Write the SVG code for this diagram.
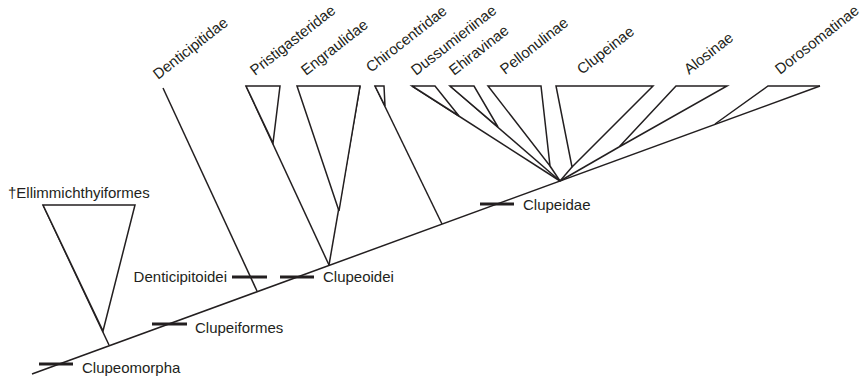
<svg xmlns="http://www.w3.org/2000/svg" width="866" height="377" viewBox="0 0 866 377">
<style>
.ln{fill:none;stroke:#231f20;stroke-width:1.5;stroke-linejoin:miter}
.tri{fill:#fff;stroke:#231f20;stroke-width:1.5;stroke-linejoin:miter}
.bar{stroke:#231f20;stroke-width:3}
text{font-family:"Liberation Sans",Arial,sans-serif;font-size:15px;fill:#231f20}
</style>
<rect width="866" height="377" fill="#fff"/>
<g id="connectors">
<line class="ln" x1="32" y1="374" x2="820" y2="86"/>
<line class="ln" x1="43" y1="205" x2="109" y2="345"/>
<line class="ln" x1="163" y1="88" x2="257" y2="291"/>
<line class="ln" x1="246" y1="86" x2="329" y2="265"/>
<line class="ln" x1="360" y1="86" x2="329" y2="265"/>
<line class="ln" x1="375" y1="86" x2="442" y2="224"/>
<line class="ln" x1="412" y1="86" x2="560" y2="181"/>
<line class="ln" x1="450" y1="86" x2="560" y2="181"/>
<line class="ln" x1="550" y1="166" x2="560" y2="181"/>
<line class="ln" x1="572" y1="167" x2="560" y2="181"/>
<line class="ln" x1="619" y1="147" x2="560" y2="181"/>
</g>
<g id="Ellimmichthyiformes">
<polygon class="tri" points="43,205 135,205 103,331"/>
<text x="8" y="198">†Ellimmichthyiformes</text>
</g>
<g id="Denticipitidae">
<text transform="translate(158,80) rotate(-38)">Denticipitidae</text>
</g>
<g id="Pristigasteridae">
<polygon class="tri" points="246,86 280,86 273,143"/>
<text transform="translate(255,76) rotate(-38)">Pristigasteridae</text>
</g>
<g id="Engraulidae">
<polygon class="tri" points="297,86 360,86 339,211"/>
<text transform="translate(306,76) rotate(-38)">Engraulidae</text>
</g>
<g id="Chirocentridae">
<polygon class="tri" points="375,86 384,86 385,106"/>
<text transform="translate(371,73) rotate(-38)">Chirocentridae</text>
</g>
<g id="Dussumieriinae">
<polygon class="tri" points="412,86 435,86 459,116"/>
<text transform="translate(416,76) rotate(-38)">Dussumieriinae</text>
</g>
<g id="Ehiravinae">
<polygon class="tri" points="450,86 474,86 498,127"/>
<text transform="translate(454,76) rotate(-38)">Ehiravinae</text>
</g>
<g id="Pellonulinae">
<polygon class="tri" points="488,86 541,86 550,166"/>
<text transform="translate(505,75) rotate(-38)">Pellonulinae</text>
</g>
<g id="Clupeinae">
<polygon class="tri" points="556,86 653,86 572,167"/>
<text transform="translate(582,75) rotate(-38)">Clupeinae</text>
</g>
<g id="Alosinae">
<polygon class="tri" points="676,86 727,86 619,147"/>
<text transform="translate(689,75) rotate(-38)">Alosinae</text>
</g>
<g id="Dorosomatinae">
<polyline class="ln" points="715,124 768,86 820,86"/>
<text transform="translate(780,75) rotate(-38)">Dorosomatinae</text>
</g>
<g id="Clupeomorpha">
<line class="bar" x1="39" y1="364" x2="73" y2="364"/>
<text x="82" y="373">Clupeomorpha</text>
</g>
<g id="Clupeiformes">
<line class="bar" x1="152" y1="324" x2="187" y2="324"/>
<text x="195" y="333">Clupeiformes</text>
</g>
<g id="Denticipitoidei">
<line class="bar" x1="232" y1="277" x2="267" y2="277"/>
<text x="227" y="282" text-anchor="end">Denticipitoidei</text>
</g>
<g id="Clupeoidei">
<line class="bar" x1="280" y1="277" x2="314" y2="277"/>
<text x="323" y="282">Clupeoidei</text>
</g>
<g id="Clupeidae">
<line class="bar" x1="480" y1="204" x2="514" y2="204"/>
<text x="523" y="210">Clupeidae</text>
</g>
</svg>
